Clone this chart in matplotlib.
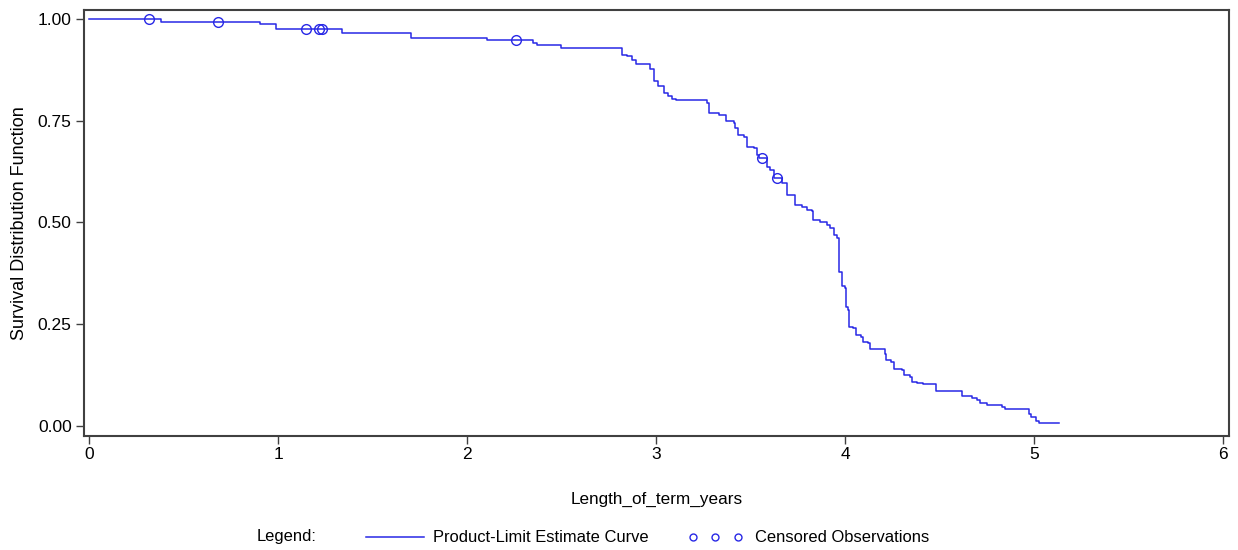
import numpy as np
import matplotlib
matplotlib.use("Agg")
import matplotlib.pyplot as plt
from matplotlib.lines import Line2D

plt.rcParams['font.family'] = ['Liberation Sans', 'DejaVu Sans']

# Product-limit estimate: event times (years) and survival after each event
event_times = [0.0, 0.381, 0.905, 0.989, 1.339, 1.704, 2.106, 2.349, 2.370, 2.497,
               2.818, 2.845, 2.871, 2.894, 2.965, 2.986, 2.989, 3.007, 3.039, 3.041, 3.065, 3.083, 3.106,
               3.271, 3.277, 3.330, 3.370, 3.409, 3.418, 3.435, 3.462, 3.479, 3.515, 3.532, 3.545,
               3.586, 3.603, 3.625, 3.665, 3.691, 3.694, 3.735, 3.771, 3.797, 3.824, 3.832, 3.868,
               3.903, 3.921, 3.938, 3.956, 3.965, 3.967, 3.981, 3.985, 3.997, 4.002, 4.014, 4.019, 4.040,
               4.058, 4.084, 4.093, 4.120, 4.132, 4.212, 4.216, 4.243, 4.256, 4.300, 4.309, 4.344, 4.353,
               4.379, 4.410, 4.481, 4.617, 4.670, 4.697, 4.714, 4.750, 4.829, 4.847, 4.970, 4.982, 5.011, 5.023]
survival = [1.0, 0.993, 0.987, 0.975, 0.965, 0.953, 0.948, 0.941, 0.936, 0.928,
            0.912, 0.909, 0.899, 0.889, 0.876, 0.868, 0.848, 0.834, 0.827, 0.817, 0.811, 0.803, 0.801,
            0.793, 0.768, 0.764, 0.748, 0.744, 0.731, 0.715, 0.711, 0.686, 0.682, 0.666, 0.658,
            0.637, 0.629, 0.609, 0.596, 0.584, 0.568, 0.543, 0.539, 0.530, 0.527, 0.506, 0.502,
            0.493, 0.486, 0.469, 0.461, 0.449, 0.379, 0.373, 0.344, 0.339, 0.293, 0.285, 0.244, 0.240,
            0.223, 0.219, 0.207, 0.203, 0.190, 0.178, 0.162, 0.157, 0.141, 0.137, 0.125, 0.121, 0.109,
            0.106, 0.103, 0.087, 0.075, 0.068, 0.064, 0.057, 0.051, 0.047, 0.041, 0.029, 0.022, 0.013, 0.007]
last_time = 5.13

censor_times = [0.317, 0.68, 1.148, 1.217, 1.233, 2.26, 3.56, 3.64]

x_ticks = [0, 1, 2, 3, 4, 5, 6]
y_ticks = [0.0, 0.25, 0.5, 0.75, 1.0]

t = np.array(event_times + [last_time])
s = np.array(survival + [survival[-1]])

# survival level at each censored time
idx = np.searchsorted(np.array(event_times), censor_times, side='right') - 1
censor_surv = np.array(survival)[idx]

fig = plt.figure(figsize=(12.38, 5.5), dpi=100)
ax = fig.add_axes([0.068, 0.207, 0.925, 0.775])

blue = '#2828E6'
ax.step(t, s, where='post', color=blue, lw=1.1)
ax.plot(censor_times, censor_surv, 'o', mfc='none', mec=blue, ms=7, mew=1.0)

ax.set_xlim(-0.026, 6.032)
ax.set_ylim(-0.0246, 1.022)
ax.set_xticks(x_ticks)
ax.set_yticks(y_ticks)
ax.set_xticklabels([str(v) for v in x_ticks])
ax.set_yticklabels(['%.2f' % v for v in y_ticks])
ax.tick_params(labelsize=12.5, length=6, width=1.0, color='#404040', direction='out', pad=3)
ax.tick_params(axis='x', pad=2)
for sp in ax.spines.values():
    sp.set_color('#404040')
    sp.set_linewidth(1.5)

ax.set_xlabel('Length_of_term_years', fontsize=12.3, labelpad=21)
ax.set_ylabel('Survival Distribution Function', fontsize=13, labelpad=7)

# legend row at the bottom
ly = 1 - 537 / 550
fs = 11.9
fig.text(257 / 1238, ly, 'Legend:', fontsize=fs, va='center', ha='left')
fig.add_artist(Line2D([366 / 1238, 424 / 1238], [ly, ly], color=blue, lw=1.1,
                      transform=fig.transFigure))
fig.text(433 / 1238, ly, 'Product-Limit Estimate Curve', fontsize=fs, va='center', ha='left')
for px in (693, 715, 738):
    fig.add_artist(Line2D([px / 1238], [ly], marker='o', mfc='none', mec=blue, ms=5, mew=1.0,
                          ls='none', transform=fig.transFigure))
fig.text(755 / 1238, ly, 'Censored Observations', fontsize=fs, va='center', ha='left')

fig.savefig('out.png', dpi=100)
